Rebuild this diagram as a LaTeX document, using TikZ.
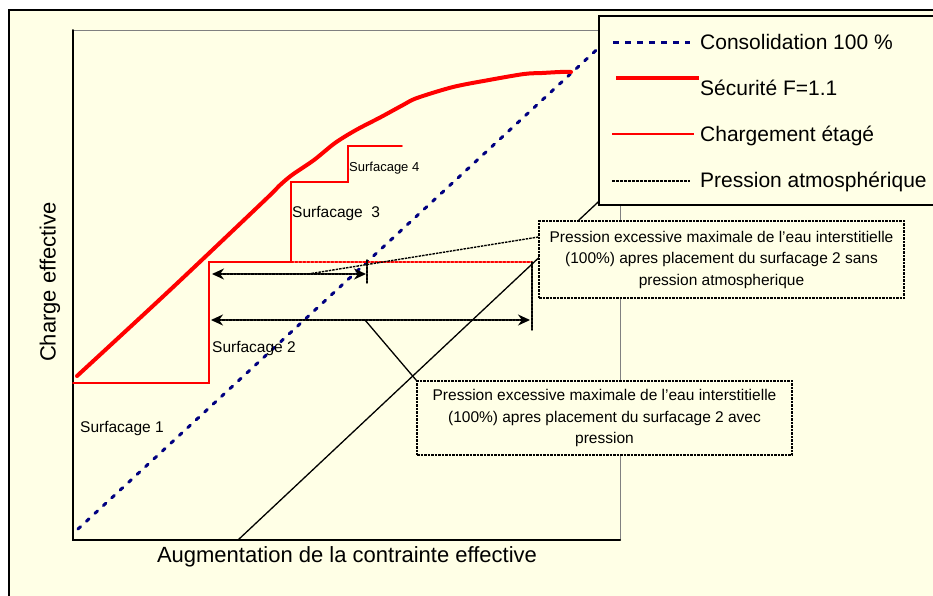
\documentclass[tikz,border=0pt]{standalone}
\usepackage{fontspec}
\setmainfont{Liberation Sans}
\usepackage{tikz}
\usetikzlibrary{arrows.meta, calc}
\usepackage{tkz-euclide}

\definecolor{fond}{RGB}{255,255,230}
\definecolor{marine}{RGB}{0,0,128}

\tikzset{
  pointille/.style={line width=1.4pt, dash pattern=on 2.5pt off 1pt},
  fleche/.style={pointille, {Stealth[length=12pt,width=11pt]}-{Stealth[length=12pt,width=11pt]}},
  bulle/.style={draw, pointille, fill=fond, align=center, inner sep=0pt,
    font=\fontsize{15.5}{21.5}\selectfont},
  etiquette/.style={anchor=west, inner sep=0pt, font=\fontsize{15.5}{18}\selectfont},
  legende/.style={anchor=west, inner sep=0pt, font=\fontsize{21}{25}\selectfont}
}

\begin{document}
\begin{tikzpicture}[x=1pt, y=-1pt]

      \useasboundingbox (0,0) rectangle (933,595);
      \fill[white] (0,0) rectangle (933,595);
      \draw[line width=1.8pt, fill=fond] (9,10) rectangle (945,610);

      \tkzDefPoint(73,30){H}
      \tkzDefPoint(73,540){O}
      \tkzDefPoint(620,540){X}
      \tkzDefPoint(620,30){K}

      \tkzDefPoint(73,383){S1}
      \tkzDefPoint(209,383){S2}
      \tkzDefPoint(209,262){S3}
      \tkzDefPoint(291,262){S4}
      \tkzDefPoint(291,182){S5}
      \tkzDefPoint(348,182){S6}
      \tkzDefPoint(348,146){S7}
      \tkzDefPoint(402,146){S8}
      \tkzDefPoint(532,262){T}

      \tkzDefPoint(78,529){C1}
      \tkzDefPoint(605,42){C2}
      \tkzDefPoint(238,540){P1}
      \tkzDefPoint(612,189){P2}

      \tkzDefPoint(212,274){A1}
      \tkzDefPoint(366,274){A2}
      \tkzDefPoint(367,260){U1}
      \tkzDefPoint(367,283){U2}
      \tkzDefPoint(211,320){B1}
      \tkzDefPoint(530,320){B2}
      \tkzDefPoint(532,262){V1}
      \tkzDefPoint(532,330){V2}

      \tkzDefPoint(308,274){M1}
      \tkzDefPoint(365,320){M2}

      \tkzDrawPolySeg[gray, line width=1pt](H,K,X)
      \tkzDrawPolySeg[line width=2pt](H,O,X)

      \tkzDrawSegment[marine, line width=3pt, dash pattern=on 3.5pt off 8pt](C1,C2)
      \tkzDrawSegment[line width=1.3pt](P1,P2)

      \tkzDrawPolySeg[red, line width=1.6pt](S1,S2,S3,S4,S5,S6,S7,S8)
      \tkzDrawSegment[red, line width=1.4pt, dash pattern=on 2.5pt off 1.5pt](S4,T)
      \draw[red, line width=4pt, line cap=round] plot[smooth, tension=0.5] coordinates {(77,376) (170,290) (265,200) (279,186) (292,175) (314,160) (335,143) (356,130) (381,117) (403,105) (417,98) (453,87) (489,80) (524,74) (542,73) (560,72) (571,72)};

      \tkzDrawSegment[fleche](A1,A2)
      \tkzDrawSegment[fleche](B1,B2)
      \tkzDrawSegments[pointille](U1,U2 V1,V2)

      \node[bulle, minimum width=365pt, minimum height=77pt] (box1) at (721.5,259.5)
        {Pression excessive maximale de l’eau interstitielle\\(100\%) apres placement du surfacage 2 sans\\pression atmospherique};
      \node[bulle, minimum width=375pt, minimum height=74pt] (box2) at (604.5,418)
        {Pression excessive maximale de l’eau interstitielle\\(100\%) apres placement du surfacage 2 avec\\pression};
      \draw[pointille] (M1) -- (box1.173);
      \draw[line width=1.3pt] (M2) -- (box2.north west);

      \node[etiquette] (surf1) at (80,428) {Surfacage 1};
      \node[etiquette] (surf2) at (212,348) {Surfacage 2};
      \node[etiquette] (surf3) at (292,213) {Surfacage\ \ 3};
      \node[etiquette, font=\fontsize{13}{15}\selectfont] (surf4) at (349,168) {Surfacage 4};

      \node[font=\fontsize{22}{26}\selectfont, rotate=90] (ylab) at (50,282) {Charge effective};
      \node[font=\fontsize{22}{26}\selectfont] (xlab) at (347,557) {Augmentation de la contrainte effective};

      \draw[line width=1.8pt, fill=fond] (599,16) rectangle (950,205);
      \draw[marine, line width=3pt, dash pattern=on 6pt off 6pt] (613,42) -- (690,42);
      \draw[red, line width=4pt] (616,78) -- (699,78);
      \draw[red, line width=1.6pt] (612,134) -- (694,134);
      \draw[line width=1.3pt, dash pattern=on 3pt off 1pt] (612,181) -- (690,181);
      \node[legende] (leg1) at (700,42) {Consolidation 100 \%};
      \node[legende] (leg2) at (700,88) {Sécurité F=1.1};
      \node[legende] (leg3) at (700,136) {Chargement étagé};
      \node[legende] (leg4) at (700,182) {Pression atmosphérique};

\end{tikzpicture}
\end{document}
